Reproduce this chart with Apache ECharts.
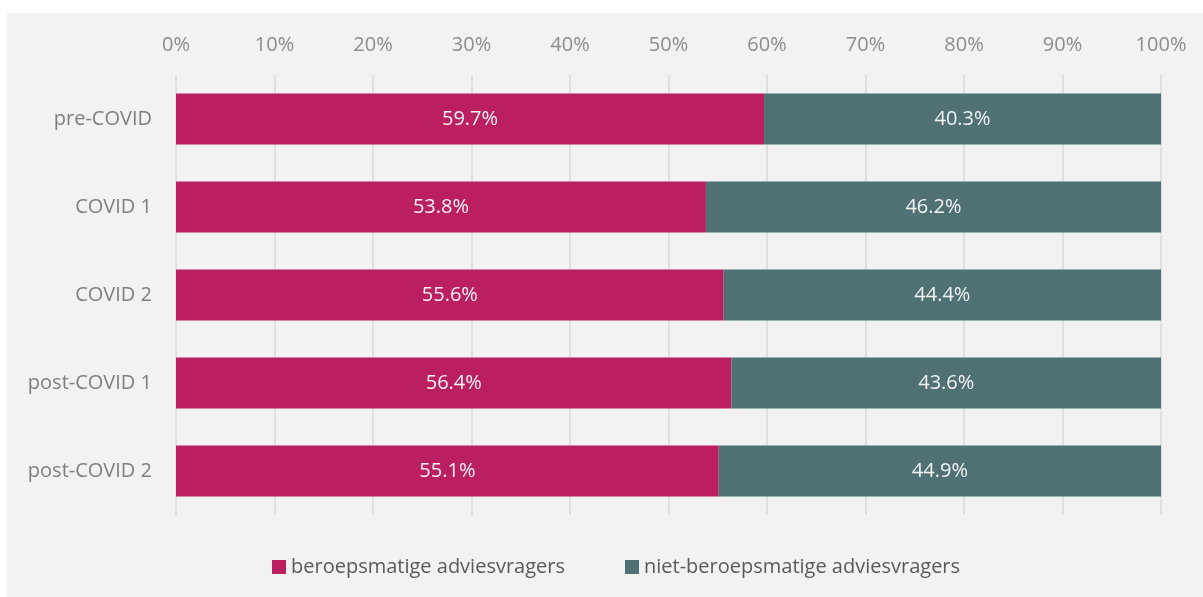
<!DOCTYPE html>
<html>
<head>
<meta charset="utf-8">
<script src="https://cdn.jsdelivr.net/npm/echarts@6/dist/echarts.min.js"></script>
<style>
  html, body { margin: 0; padding: 0; background: #ffffff; }
  #chart { position: absolute; left: 7px; top: 13px; width: 1196px; height: 584px; background: #f2f2f2; }
</style>
</head>
<body>
<div id="chart"></div>
<script>
const categories = ['pre-COVID', 'COVID 1', 'COVID 2', 'post-COVID 1', 'post-COVID 2'];
const seriesNames = ['beroepsmatige adviesvragers', 'niet-beroepsmatige adviesvragers'];
const beroeps = [59.7, 53.8, 55.6, 56.4, 55.1];
const nietBeroeps = [40.3, 46.2, 44.4, 43.6, 44.9];

const font = "'Open Sans', 'Noto Sans', sans-serif";
const chart = echarts.init(document.getElementById('chart'));

const barLabel = {
  show: true,
  position: 'inside',
  color: '#f2f2f2',
  fontSize: 20,
  fontFamily: font,
  formatter: p => p.value.toFixed(1) + '%'
};

chart.setOption({
  animation: false,
  textStyle: { fontFamily: font },
  grid: { left: 169, right: 42, top: 62, height: 440 },
  legend: {
    bottom: 15,
    left: 260,
    itemWidth: 14,
    itemHeight: 14,
    itemGap: 60,
    icon: 'rect',
    textStyle: { color: '#595959', fontSize: 20, fontFamily: font },
    data: seriesNames
  },
  xAxis: {
    type: 'value',
    position: 'top',
    min: 0,
    max: 100,
    interval: 10,
    axisLine: { show: false },
    axisTick: { show: false },
    axisLabel: { color: '#8c8c8c', fontSize: 20, margin: 20, formatter: '{value}%' },
    splitLine: { show: true, lineStyle: { color: '#d9d9d9', width: 1.5 } }
  },
  yAxis: {
    type: 'category',
    inverse: true,
    data: categories,
    axisLine: { show: false },
    axisTick: { show: false },
    axisLabel: { color: '#7f7f7f', fontSize: 20, margin: 24 }
  },
  series: [
    {
      name: seriesNames[0],
      type: 'bar',
      stack: 'total',
      barCategoryGap: '42%',
      itemStyle: { color: '#bb1f5f' },
      label: barLabel,
      data: beroeps
    },
    {
      name: seriesNames[1],
      type: 'bar',
      stack: 'total',
      barCategoryGap: '42%',
      itemStyle: { color: '#4f7174' },
      label: barLabel,
      data: nietBeroeps
    }
  ]
});
</script>
</body>
</html>
